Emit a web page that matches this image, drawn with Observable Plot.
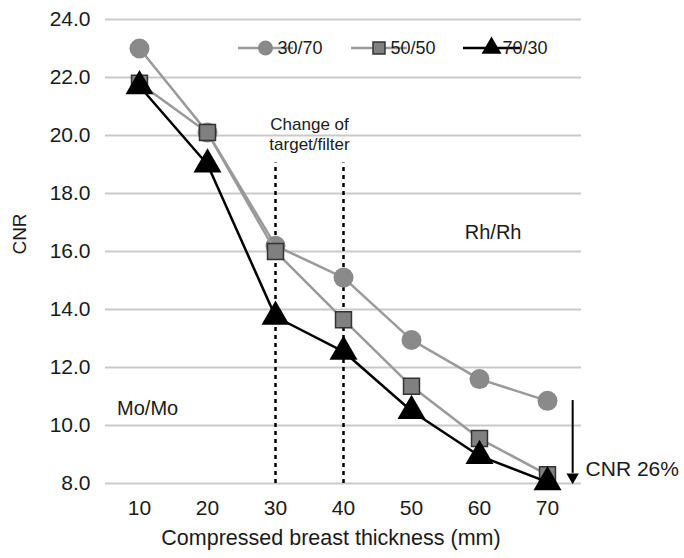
<!DOCTYPE html>
<html>
<head>
<meta charset="utf-8">
<script src="https://cdn.jsdelivr.net/npm/d3@7"></script>
<script src="https://cdn.jsdelivr.net/npm/@observablehq/plot@0.6"></script>
<style>
  html, body { margin: 0; padding: 0; background: #ffffff; }
  #chart { width: 684px; height: 558px; }
</style>
</head>
<body>
<div id="chart"></div>
<script>
// ---- data ----
const thickness = [10, 20, 30, 40, 50, 60, 70];
const seriesNames = ["30/70", "50/50", "70/30"];
const cnr3070 = [23.0, 20.1, 16.2, 15.1, 12.95, 11.6, 10.85];
const cnr5050 = [21.8, 20.1, 16.0, 13.65, 11.35, 9.55, 8.3];
const cnr7030 = [21.7, 19.0, 13.75, 12.55, 10.5, 8.95, 8.05];
const yTicks = [8, 10, 12, 14, 16, 18, 20, 22, 24];
const xTicks = [10, 20, 30, 40, 50, 60, 70];
const xTitle = "Compressed breast thickness (mm)";
const yTitle = "CNR";

// annotations (data coordinates)
const changeLines = [30, 40];
const changeTop = 19.05;
const changeLabel = [{x: 35, y: 20.07, text: "Change of\ntarget/filter"}];
const rhLabel = [{x: 62, y: 16.65, text: "Rh/Rh"}];
const moLabel = [{x: 6.7, y: 10.6, text: "Mo/Mo"}];
const arrowX = 73.7, arrowFrom = 10.86, arrowTo = 8.35, arrowHead = 8.22;
const dropLabel = [{x: 75.6, y: 8.5, text: "CNR 26%"}];

const seriesValues = [cnr3070, cnr5050, cnr7030];
const rows = seriesNames.flatMap((s, i) => thickness.map((t, j) => ({series: s, x: t, y: seriesValues[i][j]})));
const bySeries = s => rows.filter(d => d.series === s);

const styles = {
  "30/70": {line: "#9a9a9a", symbol: "circle", r: 10, fill: "#8a8a8a", stroke: "none", sw: 0},
  "50/50": {line: "#9a9a9a", symbol: "square", r: 9.0, fill: "#808080", stroke: "#333333", sw: 1.5},
  "70/30": {line: "#000000", symbol: "triangle", r: 10.4, fill: "#000000", stroke: "none", sw: 0}
};

const font = "'Liberation Sans', Arial, Helvetica, sans-serif";

const seriesMarks = seriesNames.flatMap(s => {
  const st = styles[s];
  return [
    Plot.line(bySeries(s), {x: "x", y: "y", stroke: st.line, strokeWidth: 2.5}),
    Plot.dot(bySeries(s), {x: "x", y: "y", symbol: st.symbol, r: st.r, fill: st.fill, stroke: st.stroke, strokeWidth: st.sw})
  ];
});

const chart = Plot.plot({
  width: 684,
  height: 558,
  marginLeft: 105,
  marginRight: 103,
  marginTop: 19,
  marginBottom: 75,
  x: {domain: [5, 75]},
  y: {domain: [8, 24]},
  style: {fontFamily: font, fontSize: "20px", color: "#1a1a1a", background: "#ffffff", overflow: "visible"},
  marks: [
    Plot.gridY({ticks: yTicks, stroke: "#c9c9c9", strokeOpacity: 1, strokeWidth: 2}),
    Plot.axisY({ticks: yTicks, tickSize: 0, tickPadding: 15, tickFormat: d => d.toFixed(1), label: null, fontSize: 21}),
    Plot.axisX({ticks: xTicks, tickSize: 0, tickPadding: 17, label: null, fontSize: 21}),
    Plot.ruleX(changeLines, {x: d => d, y1: 8, y2: changeTop, stroke: "#000", strokeWidth: 2.5, strokeDasharray: "4,4"}),
    Plot.text(changeLabel, {x: "x", y: "y", text: "text", fontSize: 17, lineHeight: 1.2, fill: "#1a1a1a"}),
    Plot.text(rhLabel, {x: "x", y: "y", text: "text", textAnchor: "middle", fontSize: 20, fill: "#1a1a1a"}),
    Plot.text(moLabel, {x: "x", y: "y", text: "text", textAnchor: "start", fontSize: 20, fill: "#1a1a1a"}),
    Plot.ruleX([arrowX], {x: d => d, y1: arrowFrom, y2: arrowTo, stroke: "#000", strokeWidth: 2}),
    Plot.dot([arrowX], {x: d => d, y: arrowHead, symbol: "triangle", r: 4.6, rotate: 180, fill: "#000", stroke: "none"}),
    Plot.text(dropLabel, {x: "x", y: "y", text: "text", textAnchor: "start", fontSize: 21, fill: "#1a1a1a"}),
    ...seriesMarks
  ]
});

document.getElementById("chart").appendChild(chart);

// ---- titles and legend ----
const svg = d3.select(chart);
svg.append("text")
  .attr("x", 331).attr("y", 545)
  .attr("text-anchor", "middle")
  .attr("font-family", font).attr("font-size", 21.5).attr("fill", "#1a1a1a")
  .text(xTitle);
svg.append("text")
  .attr("transform", "translate(19,234) rotate(-90)")
  .attr("text-anchor", "middle").attr("dy", "0.35em")
  .attr("font-family", font).attr("font-size", 19).attr("fill", "#1a1a1a")
  .text(yTitle);

const legendY = 48;
const legendItems = [
  {name: seriesNames[0], x0: 238, x1: 293, text: 300, sym: d3.symbolCircle, size: Math.PI * 7.5 * 7.5},
  {name: seriesNames[1], x0: 351, x1: 407, text: 413, sym: d3.symbolSquare, size: 12 * 12},
  {name: seriesNames[2], x0: 463, x1: 520, text: 525, sym: d3.symbolTriangle, size: 0.433 * 20 * 20}
];
const lg = svg.append("g");
legendItems.forEach(it => {
  const st = styles[it.name];
  lg.append("line").attr("x1", it.x0).attr("x2", it.x1).attr("y1", legendY).attr("y2", legendY)
    .attr("stroke", st.line).attr("stroke-width", 2.5);
  lg.append("path").attr("d", d3.symbol(it.sym, it.size)())
    .attr("transform", `translate(${(it.x0 + it.x1) / 2},${legendY})`)
    .attr("fill", st.fill).attr("stroke", st.stroke).attr("stroke-width", st.sw);
  lg.append("text").attr("x", it.text).attr("y", legendY).attr("dy", "0.35em")
    .attr("font-family", font).attr("font-size", 18).attr("fill", "#1a1a1a")
    .text(it.name);
});
</script>
</body>
</html>
